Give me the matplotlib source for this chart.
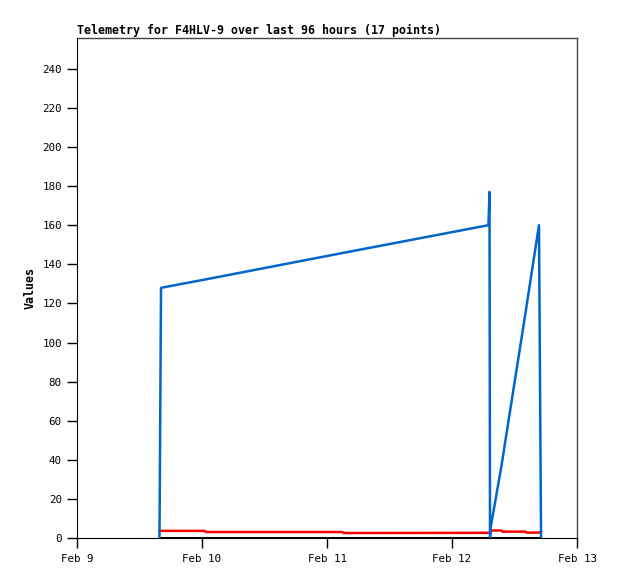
import numpy as np
import pandas as pd
import matplotlib
matplotlib.use("Agg")
import matplotlib.pyplot as plt

# hours after Feb 9 00:00 for each of the 17 telemetry points
hours = [15.84, 16.13, 24.5, 24.7, 51.0, 51.2, 79.0, 79.2, 79.3, 79.45,
         81.5, 81.7, 86.1, 86.3, 88.7, 88.9, 89.1]
blue_vals = [0, 128, 132.2, 132.3, 145.8, 145.9, 160, 177, 0, 6,
             37, 40.5, 115, 118.5, 160, 80, 0]
red_vals = [3.8, 3.8, 3.8, 3.2, 3.2, 2.7, 2.8, 2.8, 3.0, 4.0,
            4.0, 3.4, 3.4, 2.9, 2.9, 3.3, 3.6]
black_vals = [0] * 17

title = "Telemetry for F4HLV-9 over last 96 hours (17 points)"
x_ticks = ["Feb 9", "Feb 10", "Feb 11", "Feb 12", "Feb 13"]

base = pd.Timestamp("2024-02-09")
times = base + pd.to_timedelta(hours, unit="h")
tick_dates = pd.date_range(base, periods=len(x_ticks), freq="D")

mono = "DejaVu Sans Mono"

fig = plt.figure(figsize=(6.18, 5.79), dpi=100)
ax = fig.add_axes([77 / 618, 1 - 538.3 / 579, 500 / 618, 500 / 579])

ax.plot(times, black_vals, color="black", lw=2.2, solid_capstyle="butt")
ax.plot(times, red_vals, color="#ff0000", lw=1.8)
ax.plot(times, blue_vals, color="#0066cc", lw=1.8)

ax.set_xlim(tick_dates[0], tick_dates[-1])
ax.set_ylim(0, 255.5)
ax.set_yticks(np.arange(0, 241, 20))
ax.set_xticks(tick_dates)
ax.set_xticklabels(x_ticks)

for lab in ax.get_xticklabels() + ax.get_yticklabels():
    lab.set_fontfamily(mono)
    lab.set_fontsize(7.8)

ax.tick_params(direction="out", length=7, width=1, color="black", pad=4)
ax.spines["left"].set_color("black")
ax.spines["bottom"].set_color("black")
for s in ("top", "right"):
    ax.spines[s].set_color("#444444")
    ax.spines[s].set_linewidth(1)

ax.set_title(title, loc="left", fontfamily=mono, fontweight="bold",
             fontsize=8.4, pad=3)
ax.set_ylabel("Values", fontfamily=mono, fontweight="bold", fontsize=8.4,
              labelpad=4)

fig.savefig("out.png", dpi=100)
